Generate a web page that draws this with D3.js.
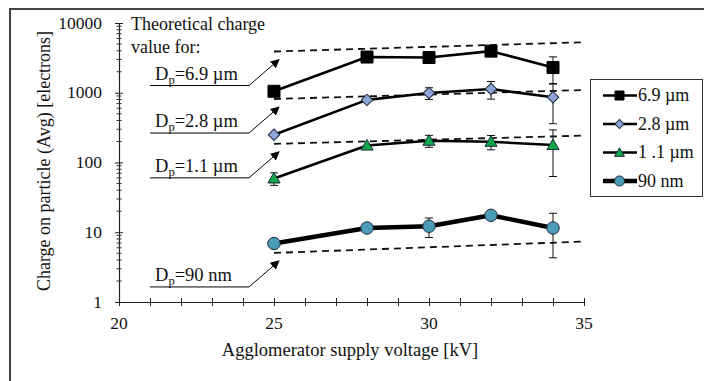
<!DOCTYPE html>
<html>
<head>
<meta charset="utf-8">
<script src="https://cdn.jsdelivr.net/npm/d3@7"></script>
<style>
  body { margin: 0; background: #fff; }
  svg { display: block; font-family: "Liberation Serif", "Times New Roman", serif; }
  text { fill: #111; }
</style>
</head>
<body>
<svg id="chart" width="704" height="381"></svg>
<script>
// measured points (avg charge per particle) at each supply voltage
const voltages = [25, 28, 30, 32, 34];
const charge69 = [1050, 3250, 3200, 3950, 2300];
const err69 = [120, 0, 0, 600, 970];
const charge28 = [250, 790, 990, 1130, 860];
const err28 = [0, 0, 190, 320, 500];
const charge11 = [59, 175, 205, 198, 178];
const err11 = [12, 0, 40, 46, 115];
const charge90 = [6.9, 11.5, 12.2, 17.5, 11.5];
const err90 = [0, 0, 3.8, 0, 7.2];

// theoretical charge (dashed lines), from 25 to 35 kV
const theoryVoltages = [25, 35];
const theory69 = [3900, 5300];
const theory28 = [813, 1094];
const theory11 = [185, 243];
const theory90 = [5.05, 7.35];

const xTicks = [20, 25, 30, 35];
const yTicks = [1, 10, 100, 1000, 10000];
const legendLabels = ["6.9 \u00b5m", "2.8 \u00b5m", "1 .1 \u00b5m", "90 nm"];
const dpLabels = ["6.9 \u00b5m", "2.8 \u00b5m", "1.1 \u00b5m", "90 nm"];

const series = [
  {values: charge69, errs: err69, theory: theory69, shape: "square", fill: "#000", width: 2.6},
  {values: charge28, errs: err28, theory: theory28, shape: "diamond", fill: "#8fa5d6", width: 2.6},
  {values: charge11, errs: err11, theory: theory11, shape: "triangle", fill: "#10a74b", width: 2.6},
  {values: charge90, errs: err90, theory: theory90, shape: "circle", fill: "#4a9cb8", width: 4.5}
];

const svg = d3.select("#chart");

// frame (only top and left edges show in the picture)
svg.append("path")
  .attr("d", "M10,381 V9 H704")
  .attr("fill", "none")
  .attr("stroke", "#444")
  .attr("stroke-width", 2);

const x = d3.scaleLinear().domain([20, 35]).range([119, 584]);
const y = d3.scaleLog().domain([1, 10000]).range([302, 23]);

// x axis, ticks cross the line
const xAxis = svg.append("g")
  .attr("transform", `translate(0,${y(1)})`)
  .call(d3.axisBottom(x).tickValues(d3.range(20, 36, 1)).tickSizeOuter(0).tickFormat(""));
xAxis.selectAll(".tick line").attr("y1", -4).attr("y2", 4).attr("stroke", "#222");
xAxis.select(".domain").attr("stroke", "#222").attr("stroke-width", 1.2);
svg.append("g").selectAll("text")
  .data(xTicks)
  .join("text")
    .attr("x", d => x(d))
    .attr("y", y(1) + 27)
    .attr("text-anchor", "middle")
    .attr("font-size", 17.5)
    .text(d => d);

// y axis, log
const yAxis = svg.append("g")
  .attr("transform", `translate(${x(20)},0)`)
  .call(d3.axisLeft(y).tickValues(yTicks).tickSizeOuter(0).tickFormat(""));
yAxis.selectAll(".tick line").attr("x1", -4).attr("x2", 4).attr("stroke", "#222");
yAxis.select(".domain").attr("stroke", "#222").attr("stroke-width", 1.2);

let minor = [];
yTicks.slice(0, -1).forEach(d => { for (let k = 2; k < 10; k++) minor.push(d * k); });
yAxis.selectAll(".minor")
  .data(minor)
  .join("line")
    .attr("class", "minor")
    .attr("x1", -2.5).attr("x2", 2.5)
    .attr("y1", d => y(d)).attr("y2", d => y(d))
    .attr("stroke", "#333");

svg.append("g").selectAll("text")
  .data(yTicks)
  .join("text")
    .attr("x", x(20) - 17)
    .attr("y", d => y(d))
    .attr("dy", "0.32em")
    .attr("text-anchor", "end")
    .attr("font-size", 17.5)
    .text(d => d);

// axis titles
svg.append("text")
  .attr("x", 350)
  .attr("y", 356)
  .attr("text-anchor", "middle")
  .attr("font-size", 18.5)
  .text("Agglomerator supply voltage [kV]");

svg.append("text")
  .attr("transform", "translate(50,161) rotate(-90)")
  .attr("text-anchor", "middle")
  .attr("font-size", 18)
  .text("Charge on particle (Avg) [electrons]");

function symbolPath(shape, big) {
  if (shape === "square") return d3.symbol(d3.symbolSquare, big ? 144 : 81)();
  if (shape === "triangle") return d3.symbol(d3.symbolTriangle, big ? 64 : 42)();
  if (shape === "circle") return d3.symbol(d3.symbolCircle, big ? 122 : 80)();
  return d3.symbol(d3.symbolSquare, big ? 66 : 42)();
}

const plot = svg.append("g");

// theoretical dashed lines
const theoryLine = d3.line().x((d, i) => x(theoryVoltages[i])).y(d => y(d));
plot.selectAll(".theory")
  .data(series)
  .join("path")
    .attr("class", "theory")
    .attr("d", s => theoryLine(s.theory))
    .attr("fill", "none")
    .attr("stroke", "#111")
    .attr("stroke-width", 1.8)
    .attr("stroke-dasharray", "7,5");

// measured lines
const dataLine = d3.line().x((d, i) => x(voltages[i])).y(d => y(d));
plot.selectAll(".series")
  .data(series)
  .join("path")
    .attr("class", "series")
    .attr("d", s => dataLine(s.values))
    .attr("fill", "none")
    .attr("stroke", "#000")
    .attr("stroke-width", s => s.width)
    .attr("stroke-linejoin", "round");

// error bars
series.forEach(s => {
  const bars = s.values.map((v, i) => ({v: v, e: s.errs[i], vx: voltages[i]})).filter(d => d.e > 0);
  const g = plot.append("g").attr("stroke", "#111").attr("stroke-width", 1);
  g.selectAll(".eb")
    .data(bars)
    .join("path")
      .attr("d", d => {
        const cx = x(d.vx), top = y(d.v + d.e), bot = y(d.v - d.e);
        return `M${cx},${top}V${bot}M${cx - 4},${top}H${cx + 4}M${cx - 4},${bot}H${cx + 4}`;
      });
});

// markers
series.forEach(s => {
  plot.append("g").selectAll("path")
    .data(s.values)
    .join("path")
      .attr("d", symbolPath(s.shape, true))
      .attr("transform", (d, i) => `translate(${x(voltages[i])},${y(d)})` + (s.shape === "diamond" ? " rotate(45)" : "") + (s.shape === "triangle" ? " translate(0,1)" : ""))
      .attr("fill", s.fill)
      .attr("stroke", s.shape === "square" ? "#000" : "#1c2b3a")
      .attr("stroke-width", 1);
});

// annotation text and arrows
svg.append("defs").append("marker")
  .attr("id", "arrow")
  .attr("viewBox", "0 0 10 10")
  .attr("refX", 9).attr("refY", 5)
  .attr("markerWidth", 9).attr("markerHeight", 9)
  .attr("markerUnits", "userSpaceOnUse")
  .attr("orient", "auto")
  .append("path")
    .attr("d", "M0,0 L10,5 L0,10 z")
    .attr("fill", "#000");

const note = svg.append("text")
  .attr("x", 131)
  .attr("y", 30)
  .attr("font-size", 18);
note.append("tspan").text("Theoretical charge");
note.append("tspan").attr("x", 131).attr("dy", 23).text("value for:");

series.forEach((s, i) => {
  const tipX = x(theoryVoltages[0]) + 5;
  const tipY = y(s.theory[0]) + 8;
  const baseY = tipY + 26;
  svg.append("path")
    .attr("d", `M${x(21)},${baseY} H${tipX - 30} L${tipX},${tipY}`)
    .attr("fill", "none")
    .attr("stroke", "#000")
    .attr("stroke-width", 1)
    .attr("marker-end", "url(#arrow)");
  const t = svg.append("text")
    .attr("x", 155)
    .attr("y", baseY - 6)
    .attr("font-size", 18.5);
  t.append("tspan").text("D");
  t.append("tspan").attr("font-size", 12.5).attr("dy", 4).text("p");
  t.append("tspan").attr("dy", -4).text("=" + dpLabels[i]);
});

// legend
const legend = svg.append("g").attr("transform", "translate(590,79)");
legend.append("rect")
  .attr("x", 0.5).attr("y", 0.5)
  .attr("width", 112).attr("height", 117)
  .attr("fill", "#fff")
  .attr("stroke", "#333")
  .attr("stroke-width", 1);

const items = legend.selectAll(".item")
  .data(series)
  .join("g")
    .attr("class", "item")
    .attr("transform", (d, i) => `translate(0,${16.5 + i * 28.5})`);
items.append("line")
  .attr("x1", 13).attr("x2", 47)
  .attr("stroke", "#000")
  .attr("stroke-width", d => d.width);
items.append("path")
  .attr("d", d => symbolPath(d.shape, false))
  .attr("transform", d => "translate(29.5,0)" + (d.shape === "diamond" ? " rotate(45)" : "") + (d.shape === "triangle" ? " translate(0,1)" : ""))
  .attr("fill", d => d.fill)
  .attr("stroke", d => d.shape === "square" ? "#000" : "#1c2b3a")
  .attr("stroke-width", 1);
items.append("text")
  .attr("x", 48)
  .attr("y", 5.5)
  .attr("font-size", 18)
  .text((d, i) => legendLabels[i]);
</script>
</body>
</html>
